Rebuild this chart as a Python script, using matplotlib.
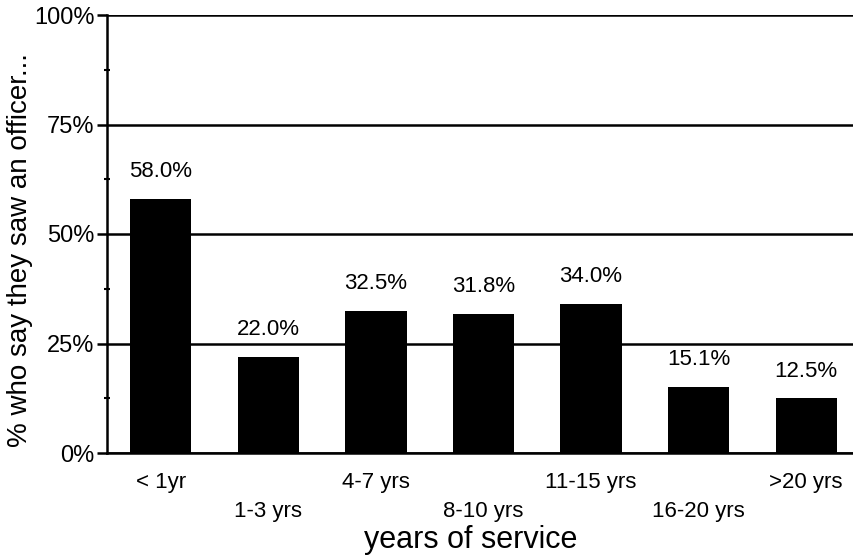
import numpy as np
import matplotlib
matplotlib.use('Agg')
import matplotlib.pyplot as plt
from matplotlib.ticker import FixedLocator, PercentFormatter

plt.rcParams['font.family'] = ['Liberation Sans', 'DejaVu Sans']

# Данные
categories = ['< 1yr', '1-3 yrs', '4-7 yrs', '8-10 yrs', '11-15 yrs', '16-20 yrs', '>20 yrs']
values = [58.0, 22.0, 32.5, 31.8, 34.0, 15.1, 12.5]
value_labels = ['58.0%', '22.0%', '32.5%', '31.8%', '34.0%', '15.1%', '12.5%']
y_ticks = [0, 25, 50, 75, 100]

fig = plt.figure(figsize=(8.54, 5.57), dpi=100)
ax = fig.add_axes([107 / 854, 104 / 557, 753 / 854, 438 / 557])

x = np.arange(len(categories))
ax.bar(x, values, width=0.57, color='black', zorder=3)

for xi, v, lab in zip(x, values, value_labels):
    ax.annotate(lab, (xi, v), xytext=(0, 12), textcoords='offset points',
                ha='center', va='bottom', fontsize=16)

ax.set_xlim(-0.5, len(categories) - 0.5)
ax.set_ylim(0, 100)
ax.yaxis.set_major_locator(FixedLocator(y_ticks))
ax.yaxis.set_minor_locator(FixedLocator([12.5, 37.5, 62.5, 87.5]))
ax.yaxis.set_major_formatter(PercentFormatter(decimals=0))
ax.grid(axis='y', color='black', linewidth=1.8, zorder=1)
ax.tick_params(axis='y', which='major', direction='out', length=7, width=1.8,
               labelsize=17, pad=2)
ax.tick_params(axis='y', which='minor', direction='inout', length=5, width=1.5)

ax.set_xticks(x)
ax.set_xticklabels(categories, fontsize=16)
ax.tick_params(axis='x', length=0, pad=14)
for i, t in enumerate(ax.get_xticklabels()):
    if i % 2 == 1:
        t.set_y(-0.066)

for s in ['top', 'right']:
    ax.spines[s].set_visible(False)
ax.spines['left'].set_linewidth(1.8)
ax.spines['bottom'].set_linewidth(1.8)

ax.set_xlabel('years of service', fontsize=22, va='center')
ax.xaxis.set_label_coords(0.483, -0.199)
ax.set_ylabel('% who say they saw an officer...', fontsize=20, va='center')
ax.yaxis.set_label_coords(-0.115, 0.463)

fig.savefig('out.png', dpi=100)
